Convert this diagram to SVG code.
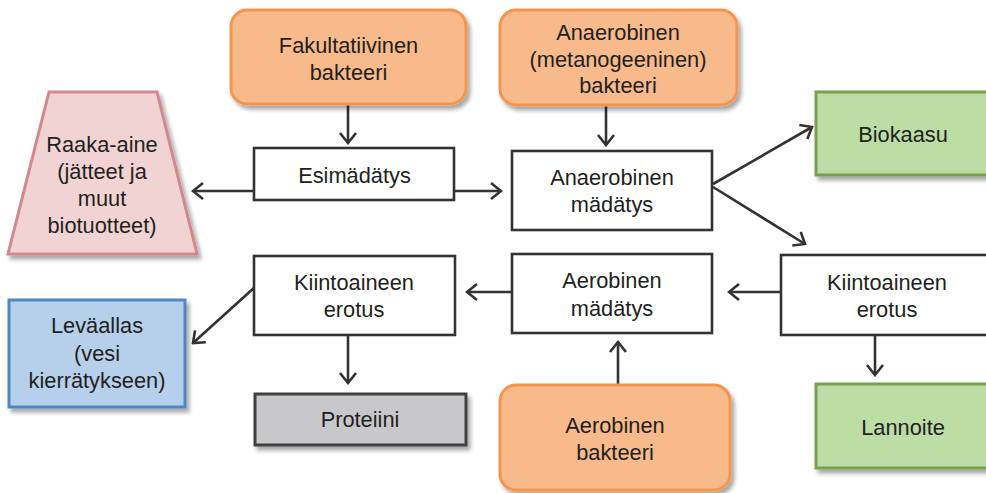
<svg xmlns="http://www.w3.org/2000/svg" width="986" height="493" viewBox="0 0 986 493">
<defs>
<filter id="sh" x="-10%" y="-10%" width="130%" height="130%">
<feGaussianBlur in="SourceAlpha" stdDeviation="2"/>
<feOffset dx="3" dy="4" result="b"/>
<feComponentTransfer><feFuncA type="linear" slope="0.35"/></feComponentTransfer>
<feMerge><feMergeNode/><feMergeNode in="SourceGraphic"/></feMerge>
</filter>
<marker id="ah" viewBox="-13 -10 15 20" refX="0" refY="0" markerWidth="15" markerHeight="20" markerUnits="userSpaceOnUse" orient="auto">
<path d="M-10,-8 L0,0 L-10,8" fill="none" stroke="#333" stroke-width="2.6"/>
</marker>
</defs>
<style>
text{font-family:"Liberation Sans",Arial,sans-serif;font-size:21.8px;fill:#231F20;text-anchor:middle}
.w{fill:#fff;stroke:#333;stroke-width:2.6}
.o{fill:#F8B98B;stroke:#F5954E;stroke-width:3}
.g{fill:#BCDDA5;stroke:#77A04F;stroke-width:3}
.b{fill:#B6D0EC;stroke:#4F87C5;stroke-width:3}
.p{fill:#F1D3D3;stroke:#D3898B;stroke-width:3}
.gr{fill:#C8C8CA;stroke:#404040;stroke-width:3}
.c{fill:none;stroke:#333;stroke-width:2.6;marker-end:url(#ah)}
</style>
<rect width="986" height="493" fill="#fff"/>
<g id="connectors">
<line class="c" x1="348" y1="105" x2="348" y2="143"/>
<line class="c" x1="606" y1="106" x2="606" y2="145"/>
<line class="c" x1="254" y1="191" x2="193" y2="191"/>
<line class="c" x1="455" y1="191" x2="501" y2="191"/>
<line class="c" x1="713" y1="184" x2="812" y2="127"/>
<line class="c" x1="713" y1="187" x2="805" y2="244"/>
<line class="c" x1="781" y1="292" x2="729" y2="292"/>
<line class="c" x1="512" y1="292" x2="467" y2="292"/>
<line class="c" x1="618" y1="385" x2="618" y2="342"/>
<line class="c" x1="875" y1="335" x2="875" y2="375"/>
<line class="c" x1="348" y1="335" x2="348" y2="383"/>
<line class="c" x1="255" y1="287" x2="193" y2="343"/>
</g>
<g id="fakultatiivinen">
<rect class="o" x="231" y="10" width="235" height="94" rx="16" filter="url(#sh)"/>
<text x="348.5" y="53">Fakultatiivinen</text>
<text x="348.5" y="80">bakteeri</text>
</g>
<g id="anaerobinen-bakteeri">
<rect class="o" x="500" y="10" width="237" height="95" rx="16" filter="url(#sh)"/>
<text x="618" y="39.5">Anaerobinen</text>
<text x="618" y="66.5">(metanogeeninen)</text>
<text x="618" y="93">bakteeri</text>
</g>
<g id="raaka-aine">
<polygon class="p" points="49,92 157,92 197,254 8,254" filter="url(#sh)"/>
<text x="102" y="152">Raaka-aine</text>
<text x="102" y="179">(jätteet ja</text>
<text x="102" y="206">muut</text>
<text x="102" y="233">biotuotteet)</text>
</g>
<g id="esimadatys">
<rect class="w" x="254" y="148" width="200" height="52"/>
<text x="354.5" y="183">Esimädätys</text>
</g>
<g id="anaerobinen-madatys">
<rect class="w" x="512" y="151" width="200" height="79"/>
<text x="612" y="185">Anaerobinen</text>
<text x="612" y="212">mädätys</text>
</g>
<g id="biokaasu">
<rect class="g" x="816" y="92" width="176" height="83" filter="url(#sh)"/>
<text x="903" y="142">Biokaasu</text>
</g>
<g id="kiintoaineen-oikea">
<rect class="w" x="781" y="255" width="212" height="80"/>
<text x="887" y="290">Kiintoaineen</text>
<text x="887" y="317">erotus</text>
</g>
<g id="aerobinen-madatys">
<rect class="w" x="512" y="254" width="200" height="79"/>
<text x="612" y="288">Aerobinen</text>
<text x="612" y="316">mädätys</text>
</g>
<g id="kiintoaineen-vasen">
<rect class="w" x="254" y="256" width="201" height="79"/>
<text x="354" y="290">Kiintoaineen</text>
<text x="354" y="317">erotus</text>
</g>
<g id="levaallas">
<rect class="b" x="9" y="300" width="176" height="107" filter="url(#sh)"/>
<text x="97" y="333">Leväallas</text>
<text x="97" y="361">(vesi</text>
<text x="97" y="388">kierrätykseen)</text>
</g>
<g id="proteiini">
<rect class="gr" x="255" y="394" width="211" height="51" filter="url(#sh)"/>
<text x="360" y="427">Proteiini</text>
</g>
<g id="aerobinen-bakteeri">
<rect class="o" x="500" y="385" width="230" height="105" rx="16" filter="url(#sh)"/>
<text x="615" y="433">Aerobinen</text>
<text x="615" y="460">bakteeri</text>
</g>
<g id="lannoite">
<rect class="g" x="816" y="384" width="176" height="84" filter="url(#sh)"/>
<text x="903" y="435">Lannoite</text>
</g>
</svg>
